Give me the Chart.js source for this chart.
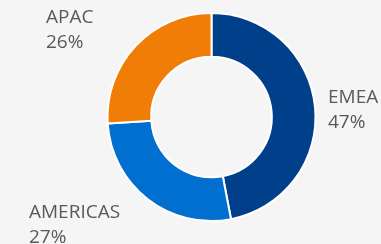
<!DOCTYPE html>
<html>
<head>
<meta charset="utf-8">
<script src="https://cdn.jsdelivr.net/npm/chart.js@4/dist/chart.umd.min.js"></script>
<style>
  html, body { margin: 0; padding: 0; background: #f5f5f5; }
  #wrap { width: 381px; height: 244px; }
</style>
</head>
<body>
<div id="wrap"><canvas id="regionChart" width="381" height="244"></canvas></div>
<script>
// data
const regions = ['EMEA', 'AMERICAS', 'APAC'];
const shares = [47, 27, 26];
const sliceColors = ['#003f8a', '#006fd0', '#f07d05'];

// where each label sits, relative to the doughnut centre (first baseline)
const labelSpots = {
    EMEA: [116.5, -14],
    AMERICAS: [-182.5, 101],
    APAC: [-165.5, -94]
};

const outsideLabels = {
    id: 'outsideLabels',
    afterDraw(chart) {
        const ctx = chart.ctx;
        const arc = chart.getDatasetMeta(0).data[0];
        const cx = arc.x, cy = arc.y;
        ctx.save();
        ctx.font = '19px "Open Sans"';
        ctx.fillStyle = '#595959';
        ctx.textAlign = 'left';
        ctx.textBaseline = 'alphabetic';
        chart.data.labels.forEach((name, i) => {
            const spot = labelSpots[name];
            const x = cx + spot[0], y = cy + spot[1];
            ctx.fillText(name, x, y);
            ctx.fillText(chart.data.datasets[0].data[i] + '%', x, y + 25);
        });
        ctx.restore();
    }
};

new Chart(document.getElementById('regionChart'), {
    type: 'doughnut',
    data: {
        labels: regions,
        datasets: [{
            data: shares,
            backgroundColor: sliceColors,
            borderColor: '#ffffff',
            borderWidth: 2
        }]
    },
    options: {
        responsive: false,
        animation: false,
        cutout: '58%',
        layout: { padding: { left: 42, right: 0, top: 12, bottom: 22 } },
        plugins: {
            legend: { display: false },
            tooltip: { enabled: false }
        }
    },
    plugins: [outsideLabels]
});
</script>
</body>
</html>
